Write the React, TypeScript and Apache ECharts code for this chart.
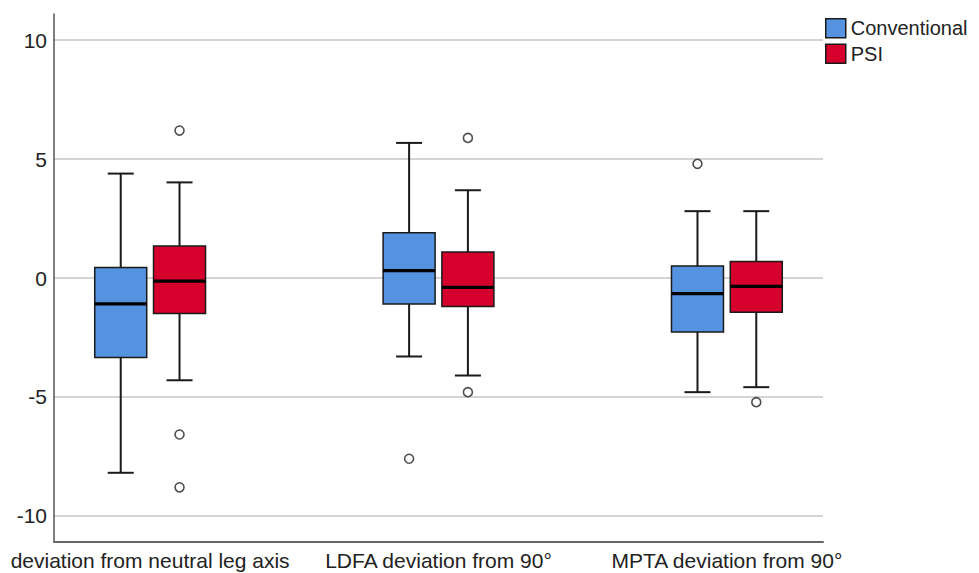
import React, { useEffect, useRef } from "react";
import * as echarts from "echarts";

// Category slots (the axis has evenly spaced slots; the three groups sit on slots 1, 4 and 7)
const categories = [
  "",
  "deviation from neutral leg axis",
  "",
  "",
  "LDFA deviation from 90°",
  "",
  "",
  "MPTA deviation from 90°",
  "",
];
const groupSlots = [1, 4, 7];

const seriesNames = ["Conventional", "PSI"];

// [min whisker, Q1, median, Q3, max whisker]
const conventionalStats = [
  [-8.19, -3.34, -1.09, 0.44, 4.39],
  [-3.3, -1.09, 0.31, 1.9, 5.68],
  [-4.8, -2.27, -0.66, 0.5, 2.81],
];
const psiStats = [
  [-4.3, -1.49, -0.13, 1.35, 4.02],
  [-4.1, -1.2, -0.39, 1.09, 3.69],
  [-4.59, -1.44, -0.35, 0.69, 2.81],
];

// [slot, value]
const conventionalOutliers = [
  [4, -7.6],
  [7, 4.8],
];
const psiOutliers = [
  [1, 6.2],
  [1, -6.58],
  [1, -8.8],
  [4, 5.89],
  [4, -4.8],
  [7, -5.22],
];

const yMin = -11.1;
const yMax = 11.1;

const BLUE = "#5592e0";
const RED = "#d5002c";
const FONT = "'Liberation Sans', Arial, sans-serif";
const BOX_W = 52;
const CAP_W = 26;
const OFFSET = 29.4;

function makeRender(offset: number) {
  return function (params: any, api: any) {
    const slot = api.value(0);
    const pMin = api.coord([slot, api.value(1)]);
    const pQ1 = api.coord([slot, api.value(2)]);
    const pMed = api.coord([slot, api.value(3)]);
    const pQ3 = api.coord([slot, api.value(4)]);
    const pMax = api.coord([slot, api.value(5)]);
    const cx = pMed[0] + offset;
    const stroke = "#1a1a1a";
    const color = api.visual("color");
    return {
      type: "group",
      children: [
        { type: "line", shape: { x1: cx, y1: pMax[1], x2: cx, y2: pQ3[1] }, style: { stroke, lineWidth: 2 } },
        { type: "line", shape: { x1: cx, y1: pQ1[1], x2: cx, y2: pMin[1] }, style: { stroke, lineWidth: 2 } },
        { type: "line", shape: { x1: cx - CAP_W / 2, y1: pMax[1], x2: cx + CAP_W / 2, y2: pMax[1] }, style: { stroke, lineWidth: 2 } },
        { type: "line", shape: { x1: cx - CAP_W / 2, y1: pMin[1], x2: cx + CAP_W / 2, y2: pMin[1] }, style: { stroke, lineWidth: 2 } },
        {
          type: "rect",
          shape: { x: cx - BOX_W / 2, y: pQ3[1], width: BOX_W, height: pQ1[1] - pQ3[1] },
          style: { fill: color, stroke, lineWidth: 1.5 },
        },
        { type: "line", shape: { x1: cx - BOX_W / 2, y1: pMed[1], x2: cx + BOX_W / 2, y2: pMed[1] }, style: { stroke: "#000", lineWidth: 3.2 } },
      ],
    };
  };
}

export default function App() {
  const ref = useRef<HTMLDivElement>(null);
  useEffect(() => {
    if (!ref.current) return;
    const chart = echarts.init(ref.current, undefined, { renderer: "svg" });
    const boxData = (stats: number[][]) => groupSlots.map((s, i) => [s, ...stats[i]]);
    const outlierSeries = (name: string, data: number[][], offset: number) => ({
      type: "scatter",
      name,
      data,
      symbol: "circle",
      symbolSize: 9,
      symbolOffset: [offset, 0],
      itemStyle: { color: "#fff", borderColor: "#222", borderWidth: 1.6 },
      z: 5,
    });
    chart.setOption({
      animation: false,
      backgroundColor: "#fff",
      textStyle: { fontFamily: FONT },
      grid: { left: 54, right: 156, top: 14, bottom: 31, containLabel: false },
      legend: {
        orient: "vertical",
        left: 825,
        top: 18,
        padding: 0,
        itemWidth: 20,
        itemHeight: 19,
        itemGap: 5,
        icon: "rect",
        textStyle: { fontSize: 20, color: "#222", fontFamily: FONT },
        data: [
          { name: seriesNames[0], itemStyle: { color: BLUE, borderColor: "#1a1a1a", borderWidth: 1.5 } },
          { name: seriesNames[1], itemStyle: { color: RED, borderColor: "#1a1a1a", borderWidth: 1.5 } },
        ],
      },
      xAxis: {
        type: "category",
        data: categories,
        boundaryGap: false,
        axisLine: { onZero: false, lineStyle: { color: "#666", width: 2 } },
        axisTick: { show: false },
        axisLabel: { interval: 0, fontSize: 21, color: "#222", margin: 8, fontFamily: FONT },
        splitLine: { show: false },
      },
      yAxis: {
        type: "value",
        min: yMin,
        max: yMax,
        axisLine: { show: true, lineStyle: { color: "#555", width: 1.5 } },
        axisTick: { show: false },
        axisLabel: { fontSize: 21, color: "#222", margin: 7, showMinLabel: false, showMaxLabel: false, fontFamily: FONT },
        splitLine: { show: true, showMinLine: false, showMaxLine: false, lineStyle: { color: "#c6c6c6", width: 1.5 } },
      },
      series: [
        {
          type: "custom",
          name: seriesNames[0],
          data: boxData(conventionalStats),
          encode: { x: 0, y: [1, 2, 3, 4, 5] },
          itemStyle: { color: BLUE },
          renderItem: makeRender(-OFFSET),
          z: 3,
        },
        {
          type: "custom",
          name: seriesNames[1],
          data: boxData(psiStats),
          encode: { x: 0, y: [1, 2, 3, 4, 5] },
          itemStyle: { color: RED },
          renderItem: makeRender(OFFSET),
          z: 3,
        },
        outlierSeries("Conventional outliers", conventionalOutliers, -OFFSET),
        outlierSeries("PSI outliers", psiOutliers, OFFSET),
      ],
    });
    return () => chart.dispose();
  }, []);
  return <div ref={ref} style={{ position: "fixed", left: 0, top: 0, width: 979, height: 573 }} />;
}
